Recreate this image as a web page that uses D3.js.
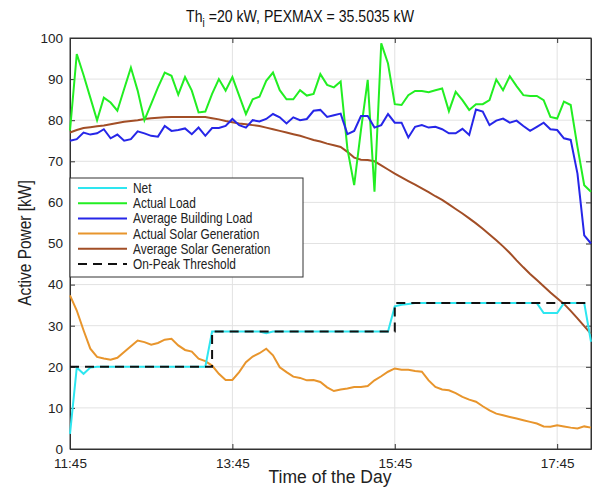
<!DOCTYPE html>
<html>
<head>
<meta charset="utf-8">
<script src="https://cdn.jsdelivr.net/npm/d3@7"></script>
<style>
  body { margin: 0; background: #fff; }
  svg { font-family: "Liberation Sans", Arial, sans-serif; }
</style>
</head>
<body>
<svg></svg>
<script>
var w = 596;
var h = 489;
var margin = { top: 38, right: 5, bottom: 40, left: 70 };

// 5 minute samples starting 11:45
var startTime = "11:45";
var stepMinutes = 5;

var net = [3.7, 19.8, 18.3, 19.8, 20, 20, 20, 20, 20, 20, 20, 20, 20, 20, 20, 20, 20, 20, 20, 20,
  20, 28.6, 28.6, 28.6, 28.6, 28.6, 28.6, 28.6, 28.6, 28.2, 28.6, 28.6, 28.6, 28.6, 28.6, 28.6, 28.6, 28.6, 28.6, 28.6,
  28.6, 28.6, 28.6, 28.6, 28.6, 28.6, 28.6, 28.6, 34.7, 35.1, 35.3, 35.5, 35.5, 35.5, 35.5, 35.5, 35.5, 35.5, 35.5, 35.5,
  35.5, 35.5, 35.5, 35.5, 35.5, 35.5, 35.5, 35.5, 35.5, 35.5, 33.1, 33.1, 33.1, 35.5, 35.5, 35.5, 35.5, 26.1];

var actualLoad = [77.5, 96.1, 91, 85.5, 80, 85.5, 84.3, 82.3, 87.6, 92.8, 87.2, 80, 84, 88, 91.6, 90.8, 86.2, 90.5, 87.2, 81.9,
  82.1, 86.4, 90, 87.2, 90.5, 86, 81.5, 85.1, 85.7, 89.6, 91.6, 87.3, 85.1, 85.1, 87.3, 86, 86.4, 91.2, 88.6, 88,
  89.4, 73, 64.2, 77.6, 89.8, 62.6, 98.7, 93.8, 83.9, 83.7, 86.1, 87.1, 87.1, 86.8, 87.3, 87.7, 82.2, 86.9, 84.9, 82.5,
  83.9, 83.9, 84.9, 89.9, 87.3, 90.7, 88.3, 86.1, 85.9, 85.9, 84.9, 80.8, 80.4, 84.5, 83.7, 73.5, 64.2, 62.6];

var avgBuildingLoad = [75, 75.4, 77, 76.5, 76.8, 77.8, 75.6, 76.5, 75, 75.4, 77.3, 76.8, 76.2, 76, 78.6, 77.4, 77.6, 78, 76.6, 78.2,
  76.2, 78.1, 78.1, 78.6, 80.3, 78.8, 78.2, 80, 79.7, 80.3, 81.5, 80.7, 79.2, 80.7, 80, 80.3, 82.3, 82.5, 80.8, 81.2,
  81.6, 76.6, 77.4, 81, 81, 78.2, 78.8, 81.5, 79.4, 79.4, 75.8, 78.4, 78.8, 78.2, 78.4, 77.8, 76.8, 76.8, 77.9, 76.4,
  82.6, 82.1, 78.8, 79.9, 80.4, 79.4, 79.9, 78.6, 77.4, 78.4, 79.4, 77.8, 77.6, 75.6, 75.2, 67, 52, 50];

var actualSolar = [37.4, 33.7, 28.9, 24.4, 22.4, 22, 21.7, 22.2, 23.6, 25, 26.4, 26, 25.4, 25.8, 26.6, 26.8, 25.2, 24.1, 23.7, 22,
  21.4, 20.3, 18.3, 16.8, 16.8, 18.7, 21.1, 22.5, 23.3, 24.4, 22.8, 19.9, 18.7, 17.6, 17.3, 16.7, 16.8, 16.3, 15, 14.1,
  14.5, 14.7, 15.1, 15.1, 15.3, 16.7, 17.7, 18.8, 19.6, 19.3, 19.3, 19, 18.8, 16.7, 15.1, 14.5, 14.3, 13.6, 12.7, 12,
  11.5, 10.4, 9.4, 8.6, 8.2, 7.8, 7.4, 7, 6.6, 6.2, 5.5, 5.4, 5.8, 5.5, 5.2, 5, 5.5, 5.2];

var avgSolar = [77, 77.6, 78.1, 78.3, 78.5, 78.7, 79, 79.3, 79.6, 79.8, 80, 80.3, 80.5, 80.6, 80.7, 80.8, 80.8, 80.8, 80.8, 80.8,
  80.8, 80.5, 80.2, 79.8, 79.5, 79.2, 79, 78.8, 78.6, 78.2, 77.8, 77.4, 77, 76.6, 76.2, 75.7, 75.2, 74.8, 74.3, 73.9,
  73.5, 72.3, 70.9, 70.4, 70.3, 70, 69, 68, 67, 66.1, 65.2, 64.3, 63.4, 62.5, 61.5, 60.6, 59.5, 58.4, 57.3, 56.1,
  54.9, 53.6, 52.2, 50.8, 49.3, 47.7, 45.9, 44.2, 42.6, 41.1, 39.6, 38.1, 36.7, 35.3, 33.6, 31.8, 29.9, 28];

var threshold = [20, 20, 20, 20, 20, 20, 20, 20, 20, 20, 20, 20, 20, 20, 20, 20, 20, 20, 20, 20,
  20, 28.6, 28.6, 28.6, 28.6, 28.6, 28.6, 28.6, 28.6, 28.6, 28.6, 28.6, 28.6, 28.6, 28.6, 28.6, 28.6, 28.6, 28.6, 28.6,
  28.6, 28.6, 28.6, 28.6, 28.6, 28.6, 28.6, 28.6, 35.5, 35.5, 35.5, 35.5, 35.5, 35.5, 35.5, 35.5, 35.5, 35.5, 35.5, 35.5,
  35.5, 35.5, 35.5, 35.5, 35.5, 35.5, 35.5, 35.5, 35.5, 35.5, 35.5, 35.5, 35.5, 35.5, 35.5, 35.5, 35.5, 35.5];

var legendText = ["Net", "Actual Load", "Average Building Load", "Actual Solar Generation", "Average Solar Generation", "On-Peak Threshold"];
var colors = ["#2ee6f0", "#22ee22", "#2626e8", "#e8952c", "#a24e26", "#111"];
var xTickLabels = ["11:45", "13:45", "15:45", "17:45"];
var yTicks = [0, 10, 20, 30, 40, 50, 60, 70, 80, 90, 100];

var parseTime = d3.timeParse("%H:%M");
var t0 = parseTime(startTime);
var times = net.map((d, i) => d3.timeMinute.offset(t0, i * stepMinutes));

var svg = d3.select("svg").attr("width", w).attr("height", h);

var x = d3
  .scaleTime()
  .domain([t0, times[times.length - 1]])
  .range([margin.left, w - margin.right]);
var y = d3
  .scaleLinear()
  .domain([0, 100])
  .range([h - margin.bottom, margin.top]);

var xTicks = xTickLabels.map(parseTime);

// grid
svg
  .append("g")
  .selectAll("line")
  .data(yTicks.slice(1, -1))
  .enter()
  .append("line")
  .attr("x1", margin.left)
  .attr("x2", w - margin.right)
  .attr("y1", (d) => y(d))
  .attr("y2", (d) => y(d))
  .style("stroke", "#e2e2e2");
svg
  .append("g")
  .selectAll("line")
  .data(xTicks.slice(1))
  .enter()
  .append("line")
  .attr("x1", (d) => x(d))
  .attr("x2", (d) => x(d))
  .attr("y1", margin.top)
  .attr("y2", h - margin.bottom)
  .style("stroke", "#e2e2e2");

// axes, matlab style ticks pointing in
var fmt = d3.timeFormat("%H:%M");
svg
  .append("g")
  .attr("transform", "translate(0," + (h - margin.bottom) + ")")
  .call(d3.axisBottom(x).tickValues(xTicks).tickFormat(fmt).tickSizeInner(-5).tickSizeOuter(0).tickPadding(9));
svg
  .append("g")
  .attr("transform", "translate(0," + margin.top + ")")
  .call(d3.axisTop(x).tickValues(xTicks).tickFormat("").tickSizeInner(-5).tickSizeOuter(0));
svg
  .append("g")
  .attr("transform", "translate(" + margin.left + ",0)")
  .call(d3.axisLeft(y).tickValues(yTicks).tickSizeInner(-5).tickSizeOuter(0).tickPadding(7));
svg
  .append("g")
  .attr("transform", "translate(" + (w - margin.right) + ",0)")
  .call(d3.axisRight(y).tickValues(yTicks).tickFormat("").tickSizeInner(-5).tickSizeOuter(0));

svg.selectAll(".domain").style("stroke", "#333");
svg.selectAll(".tick line").style("stroke", "#333");
svg.selectAll(".tick text").style("font-size", "13.5px").style("fill", "#222").style("font-family", "Liberation Sans, Arial, sans-serif");

svg
  .append("rect")
  .attr("x", margin.left)
  .attr("y", margin.top)
  .attr("width", w - margin.left - margin.right)
  .attr("height", h - margin.top - margin.bottom)
  .style("fill", "none")
  .style("stroke", "#333");

// lines
var line = d3
  .line()
  .x((d, i) => x(times[i]))
  .y((d) => y(d));
var series = [net, actualLoad, avgBuildingLoad, actualSolar, avgSolar];
var order = [3, 4, 1, 2, 0];
order.forEach((k) => {
  svg
    .append("path")
    .attr("d", line(series[k]))
    .style("fill", "none")
    .style("stroke", colors[k])
    .style("stroke-width", 2);
});
svg
  .append("path")
  .attr("d", line.curve(d3.curveStepAfter)(threshold))
  .style("fill", "none")
  .style("stroke", colors[5])
  .style("stroke-width", 2)
  .style("stroke-dasharray", "9,6");

// legend
var legend = svg.append("g");
legend
  .append("rect")
  .attr("x", margin.left)
  .attr("y", 178)
  .attr("width", 233)
  .attr("height", 99)
  .style("fill", "#fff")
  .style("stroke", "#333");
var item = legend
  .selectAll("g")
  .data(legendText)
  .enter()
  .append("g")
  .attr("transform", (d, i) => "translate(78," + (188 + i * 15.2) + ")");
item
  .append("line")
  .attr("x1", 0)
  .attr("x2", 49)
  .style("stroke", (d, i) => colors[i])
  .style("stroke-width", 2)
  .style("stroke-dasharray", (d, i) => (i === 5 ? "9,6" : null));
item
  .append("text")
  .attr("transform", "translate(55,0) scale(0.85,1)")
  .attr("dy", ".35em")
  .style("font-size", "14px")
  .style("fill", "#222")
  .text((d) => d);

// titles
var title = svg
  .append("text")
  .attr("transform", "translate(300,21.5) scale(0.83,1)")
  .attr("text-anchor", "middle")
  .style("font-size", "17px")
  .style("fill", "#111");
title.append("tspan").text("Th");
title.append("tspan").attr("dy", 5).style("font-size", "12px").text("i");
title.append("tspan").attr("dy", -5).text(" =20 kW, PEXMAX = 35.5035 kW");

svg
  .append("text")
  .attr("x", 330)
  .attr("y", 483)
  .attr("text-anchor", "middle")
  .style("font-size", "17.5px")
  .style("fill", "#222")
  .text("Time of the Day");

svg
  .append("text")
  .attr("transform", "translate(31,243) rotate(-90) scale(0.86,1)")
  .attr("text-anchor", "middle")
  .style("font-size", "18px")
  .style("fill", "#222")
  .text("Active Power [kW]");
</script>
</body>
</html>
